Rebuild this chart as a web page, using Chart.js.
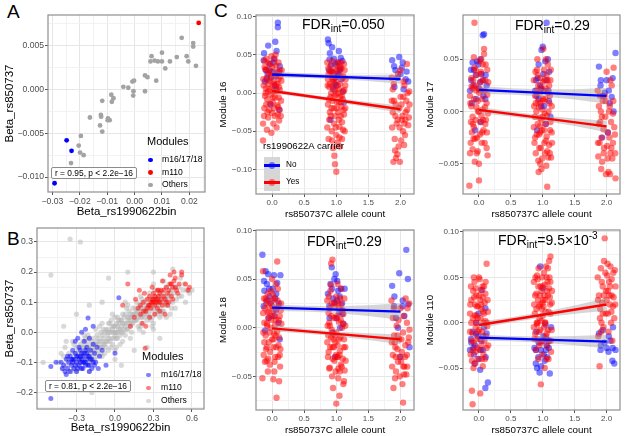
<!DOCTYPE html>
<html>
<head>
<meta charset="utf-8">
<script src="https://cdn.jsdelivr.net/npm/chart.js@4/dist/chart.umd.min.js"></script>
<style>
  body { margin: 0; background: #fff; }
  #fig { position: relative; width: 625px; height: 436px; overflow: hidden; font-family: "Liberation Sans", Arial, sans-serif; }
  #fig canvas { position: absolute; }
  .t { position: absolute; line-height: 1; white-space: nowrap; color: #000; }
  .dot { position: absolute; border-radius: 50%; }
  .note { position: absolute; border: 1px solid #8c8c8c; border-radius: 2px; background: #fff; font-size: 8.4px; line-height: 10px; padding: 0 3px; white-space: nowrap; }
  .fdr { position: absolute; font-size: 14px; line-height: 1; white-space: nowrap; }
  .fdr sub { font-size: 10px; vertical-align: -3px; }
  .fdr sup { font-size: 10px; vertical-align: 6px; }
</style>
</head>
<body>
<div id="fig">
  <div class="t" style="left:7px;top:2px;font-size:19px">A</div>
  <div class="t" style="left:7px;top:229px;font-size:19px">B</div>
  <div class="t" style="left:214px;top:1px;font-size:19px">C</div>
</div>
<script>
// ---------- panel A: module betas ----------
const aOthers = [
  [0.0172,0.0059],[0.0214,0.0053],[0.0214,0.0049],[0.0062,0.0038],[0.0058,0.0032],[0.0073,0.0033],
  [0.0085,0.0032],[0.0100,0.0042],[0.0100,0.0032],[0.0129,0.0032],[0.0154,0.0037],[0.0190,0.0038],
  [0.0196,0.0032],[0.0224,0.0027],[0.0112,0.0024],[0.0038,0.0016],[0.0047,0.0014],[0.0079,0.0010],
  [-0.0008,0.0009],[-0.0002,0.0010],[-0.0041,0.0003],[-0.0023,0.0002],[-0.0004,-0.0002],[-0.0005,-0.0007],
  [0.0038,-0.0002],[-0.0085,-0.0006],[-0.0077,-0.0010],[-0.0083,-0.0014],[-0.0118,-0.0013],[-0.0163,-0.0032],
  [-0.0123,-0.0029],[-0.0122,-0.0031],[-0.0097,-0.0033],[-0.0091,-0.0035],[-0.0098,-0.0035],[-0.0126,-0.0041],
  [-0.0118,-0.0048],[-0.0196,-0.0053],[-0.0204,-0.0064],[-0.0199,-0.0072],[-0.0186,-0.0075],[-0.0232,-0.0084]
];
const aM161718 = [[-0.0248,-0.0058],[-0.0230,-0.0070],[-0.0292,-0.0107]];
const aM110 = [[0.0234,0.0076]];

const aXTicks = [-0.03,-0.02,-0.01,0,0.01,0.02];
const aXLabels = ['\u22120.03','\u22120.02','\u22120.01','0.00','0.01','0.02'];
const aXMinor = [-0.025,-0.015,-0.005,0.005,0.015,0.025];
const aYTicks = [-0.01,-0.005,0,0.005];
const aYLabels = ['\u22120.010','\u22120.005','0.000','0.005'];
const aYMinor = [-0.0075,-0.0025,0.0025,0.0075];

// ---------- panel B: gene betas ----------
const bOthers = [
  [-0.44,-0.10],[-0.41,-0.12],[-0.40,-0.08],[-0.38,-0.11],[-0.37,-0.09],[-0.36,-0.13],[-0.42,-0.07],[-0.39,-0.05],
  [-0.34,-0.10],[-0.33,-0.07],[-0.32,-0.12],[-0.31,-0.09],[-0.30,-0.05],[-0.29,-0.11],[-0.28,-0.08],[-0.27,-0.04],
  [-0.26,-0.10],[-0.33,-0.03],[-0.30,-0.13],[-0.28,-0.06],[-0.26,-0.07],
  [-0.25,-0.09],[-0.24,-0.05],[-0.23,-0.07],[-0.22,-0.03],[-0.21,-0.10],[-0.20,-0.06],[-0.19,-0.04],[-0.18,-0.08],
  [-0.17,-0.02],[-0.16,-0.06],[-0.24,-0.01],[-0.22,-0.08],[-0.20,-0.02],[-0.18,-0.05],[-0.16,-0.09],[-0.21,-0.05],
  [-0.19,-0.07],[-0.23,-0.04],
  [-0.15,-0.04],[-0.14,-0.01],[-0.13,-0.06],[-0.12,-0.03],[-0.11,0.00],[-0.10,-0.05],[-0.09,-0.02],[-0.08,-0.07],
  [-0.07,0.01],[-0.06,-0.03],[-0.14,-0.08],[-0.12,0.02],[-0.10,-0.01],[-0.08,-0.04],[-0.06,0.00],[-0.13,-0.02],
  [-0.11,-0.05],[-0.09,0.01],[-0.07,-0.05],[-0.05,-0.02],[-0.15,0.01],[-0.10,0.03],
  [-0.05,0.01],[-0.04,-0.03],[-0.03,0.00],[-0.02,-0.04],[-0.01,0.02],[0.00,-0.01],[0.01,0.03],[0.02,-0.02],
  [0.03,0.01],[0.04,0.04],[-0.04,0.03],[-0.02,0.01],[0.00,0.02],[0.02,0.00],[0.04,-0.01],[-0.03,-0.05],
  [-0.01,-0.02],[0.01,0.00],[0.03,0.03],[0.05,0.02],[0.00,0.05],[-0.03,0.04],[0.02,0.05],[0.04,-0.04],
  [-0.05,-0.06],[0.01,-0.05],
  [0.05,0.04],[0.06,0.00],[0.07,0.03],[0.08,0.06],[0.09,0.01],[0.10,0.04],[0.11,0.07],[0.12,0.02],
  [0.13,0.05],[0.14,0.08],[0.06,0.06],[0.08,-0.01],[0.10,0.01],[0.12,0.06],[0.14,0.03],[0.07,0.05],
  [0.09,0.08],[0.11,0.03],[0.13,0.00],[0.15,0.06],[0.06,-0.03],[0.10,0.09],
  [0.16,0.04],[0.17,0.07],[0.18,0.02],[0.19,0.09],[0.20,0.05],[0.21,0.08],[0.22,0.03],[0.23,0.10],
  [0.24,0.06],[0.25,0.04],[0.17,0.10],[0.19,0.01],[0.21,0.11],[0.23,0.07],[0.16,0.08],[0.18,0.05],
  [0.20,0.12],[0.22,0.00],[0.24,0.09],
  [0.26,0.08],[0.27,0.05],[0.28,0.11],[0.29,0.07],[0.30,0.03],[0.31,0.10],[0.32,0.06],[0.33,0.12],
  [0.34,0.09],[0.35,0.05],[0.27,0.13],[0.29,0.02],[0.31,0.14],[0.33,0.07],[0.26,0.11],[0.28,0.04],
  [0.30,0.16],[0.34,0.11],
  [0.36,0.10],[0.37,0.13],[0.38,0.07],[0.39,0.11],[0.40,0.15],[0.41,0.09],[0.42,0.12],[0.43,0.06],
  [0.44,0.14],[0.45,0.10],[0.38,0.17],[0.40,0.05],[0.42,0.16],[0.36,0.06],
  [0.46,0.13],[0.48,0.11],[0.50,0.15],[0.52,0.12],[0.54,0.16],[0.56,0.14],[0.58,0.13],[0.60,0.14],
  [0.47,0.08],[0.51,0.18],[0.55,0.10],
  [-0.30,-0.07],[-0.28,-0.09],[-0.26,-0.05],[-0.24,-0.08],[-0.22,-0.06],[-0.20,-0.09],[-0.18,-0.03],[-0.16,-0.04],
  [-0.14,-0.03],[-0.12,-0.05],[-0.10,-0.03],[-0.08,0.00],[-0.06,-0.01],[-0.04,0.00],[-0.02,0.02],[0.00,0.00],
  [0.02,0.02],[0.04,0.01],[0.06,0.03],[0.08,0.02],[0.10,0.05],[0.12,0.04],[0.14,0.06],[0.16,0.06],
  [0.18,0.07],[0.20,0.08],[0.22,0.06],[0.24,0.08],[0.26,0.06],[0.28,0.09],[0.30,0.08],[0.32,0.09],
  [0.34,0.07],[0.36,0.12],[0.38,0.10],[0.40,0.12],
  [-0.27,-0.12],[-0.23,-0.02],[-0.19,-0.10],[-0.15,-0.07],[-0.11,-0.07],[-0.07,-0.03],[-0.03,-0.02],[0.01,-0.02],
  [0.05,0.00],[0.09,0.03],[0.13,0.03],[0.17,0.04],[0.21,0.05],[0.25,0.07],[0.29,0.05],[0.33,0.10],
  [0.37,0.07],[0.41,0.11],
  [-0.25,-0.03],[-0.21,-0.01],[-0.17,-0.06],[-0.13,-0.04],[-0.09,-0.04],[-0.05,0.03],[-0.01,0.00],[0.03,0.04],
  [0.07,0.01],[0.11,0.05],[0.15,0.04],[0.19,0.06],[0.23,0.05],[0.27,0.09],[0.31,0.12],[0.35,0.08],
  [0.39,0.09],[0.43,0.13],
  [-0.32,-0.04],[-0.36,-0.07],[-0.34,-0.13],[-0.38,-0.03],[0.47,0.15],[0.50,0.12],[0.53,0.14],[0.44,0.08],
  [0.08,0.10],[-0.02,0.06],[0.20,0.02],[0.30,0.01],[-0.10,-0.08],[-0.20,-0.13],[0.12,-0.02],[0.00,-0.06],
  [-0.35,0.31],[-0.27,0.30],[-0.50,0.19],[0.30,0.20],[-0.56,-0.10],[-0.20,0.09],[-0.05,0.18],[0.10,0.20],
  [0.15,-0.06],[0.05,-0.11],[-0.18,-0.20],[0.35,-0.02],[-0.40,0.02],[0.45,0.21],[0.25,-0.05],[-0.10,0.10],
  [-0.30,0.06],[0.00,-0.09]
];
const bM161718 = [
  [-0.40,-0.11],[-0.38,-0.09],[-0.37,-0.12],[-0.36,-0.10],[-0.35,-0.08],[-0.34,-0.11],[-0.33,-0.09],[-0.32,-0.12],
  [-0.31,-0.07],[-0.30,-0.10],[-0.29,-0.08],[-0.28,-0.11],[-0.27,-0.06],[-0.26,-0.09],[-0.25,-0.12],[-0.24,-0.07],
  [-0.23,-0.10],[-0.22,-0.05],[-0.21,-0.08],[-0.20,-0.11],[-0.19,-0.06],[-0.18,-0.09],[-0.17,-0.04],[-0.16,-0.07],
  [-0.15,-0.10],[-0.14,-0.05],[-0.33,-0.06],[-0.30,-0.13],[-0.28,-0.05],[-0.26,-0.12],[-0.24,-0.03],[-0.22,-0.09],
  [-0.20,-0.02],[-0.18,-0.12],[-0.35,-0.13],[-0.42,-0.10],[-0.39,-0.13],[-0.31,-0.03],[-0.27,-0.10],[-0.25,-0.08],
  [-0.23,-0.06],[-0.21,-0.11],[-0.29,-0.02],[-0.26,0.00],[-0.23,0.01],[-0.20,-0.13],[-0.16,-0.11],[-0.12,-0.08],
  [-0.10,-0.06],[-0.32,-0.09],[-0.28,-0.09],[-0.24,-0.10],
  [-0.37,-0.08],[-0.33,-0.10],[-0.30,-0.08],[-0.27,-0.08],[-0.25,-0.10],[-0.22,-0.07],[-0.19,-0.09],[-0.29,-0.12],
  [-0.34,-0.09],[-0.23,-0.11],[-0.31,-0.11],[-0.26,-0.07],[-0.20,-0.08],[-0.17,-0.10],[-0.38,-0.14],[-0.41,-0.12],
  [0.03,0.115],[-0.21,0.047],[-0.50,-0.22],[-0.50,-0.114],[0.00,-0.07],[-0.07,-0.11],[-0.46,-0.10],[-0.17,0.02],
  [-0.13,-0.12]
];
const bM110 = [
  [0.15,0.05],[0.18,0.08],[0.20,0.06],[0.22,0.10],[0.24,0.07],[0.25,0.11],[0.26,0.09],[0.27,0.12],
  [0.28,0.08],[0.29,0.10],[0.30,0.13],[0.31,0.09],[0.32,0.11],[0.33,0.08],[0.34,0.12],[0.35,0.10],
  [0.36,0.14],[0.37,0.09],[0.38,0.12],[0.39,0.11],[0.40,0.15],[0.41,0.13],[0.42,0.10],[0.43,0.16],
  [0.44,0.12],[0.45,0.15],[0.46,0.17],[0.48,0.14],[0.50,0.16],[0.52,0.19],[0.55,0.16],[0.57,0.14],
  [0.21,0.03],[0.23,0.13],[0.27,0.05],[0.29,0.15],[0.31,0.06],[0.33,0.14],[0.35,0.07],[0.37,0.17],
  [0.39,0.06],[0.41,0.09],[0.43,0.19],[0.45,0.11],[0.47,0.18],[0.49,0.13],[0.12,0.02],[0.16,0.11],
  [0.19,0.14],[0.24,0.02],[0.30,0.11],[0.32,0.10],[0.34,0.10],[0.28,0.10],
  [0.30,0.10],[0.33,0.11],[0.36,0.11],[0.38,0.14],[0.42,0.14],[0.27,0.09],[0.25,0.08],[0.31,0.12],
  [0.35,0.13],[0.40,0.10],[0.44,0.16],[0.47,0.15],[0.22,0.07],[0.20,0.09],[0.29,0.11],[0.34,0.14],
  [0.52,0.20],[0.46,0.20],[0.235,-0.053],[0.06,0.09],[0.10,0.16],[0.58,0.15]
];

const bXTicks = [-0.3,0,0.3,0.6];
const bXLabels = ['\u22120.3','0.0','0.3','0.6'];
const bXMinor = [-0.45,-0.15,0.15,0.45];
const bYTicks = [-0.2,-0.1,0,0.1,0.2,0.3];
const bYLabels = ['\u22120.2','\u22120.1','0.0','0.1','0.2','0.3'];
const bYMinor = [-0.25,-0.15,-0.05,0.05,0.15,0.25];

// ---------- panel C: module eigengenes by allele count, jittered ----------
const c16No = [
  [-0.13,0.043],[-0.10,0.030],[-0.07,0.025],[-0.04,0.038],[-0.02,0.020],[0.01,0.028],[0.03,0.045],[0.05,0.067],
  [0.07,0.055],[0.09,0.092],[0.09,0.086],[0.11,-0.022],[-0.11,0.015],[-0.06,0.062],[0.04,0.010],[0.12,0.035],
  [-0.02,-0.015],[0.06,0.022],[-0.125,0.052],[-0.085,0.018],[-0.045,0.030],[0.025,0.040],[0.065,0.005],[0.105,0.028],
  [0.87,0.070],[0.88,0.065],[0.90,0.052],[0.92,0.037],[0.94,0.028],[0.96,0.045],[0.98,0.020],[1.00,0.010],
  [1.02,0.040],[1.04,0.055],[1.06,0.032],[1.08,0.018],[1.10,0.002],[1.12,-0.012],[0.91,-0.035],[0.95,0.005],
  [1.03,0.025],[0.89,0.030],[1.07,0.046],[0.99,0.038],[0.895,0.044],[0.935,0.060],[0.975,0.012],[1.015,0.022],
  [1.055,0.030],[1.095,0.042],
  [1.87,0.043],[1.90,0.035],[1.92,0.030],[1.95,0.020],[1.98,0.047],[2.00,0.025],[2.02,0.033],[2.05,0.005],
  [2.08,0.018],[2.12,0.015],[1.905,0.008],[2.035,0.040],[2.095,0.028]
];
const c16Yes = [
  [-0.12,0.042],[-0.10,0.031],[-0.08,0.020],[-0.06,0.012],[-0.04,0.005],[-0.02,-0.002],[0.00,0.008],[0.02,0.015],
  [0.04,0.024],[0.06,0.036],[0.08,0.028],[0.10,0.018],[0.12,0.004],[0.14,-0.010],[-0.13,0.010],[-0.11,-0.004],
  [-0.09,-0.015],[-0.07,-0.025],[-0.05,0.026],[-0.03,0.038],[-0.01,0.048],[0.01,-0.012],[0.03,-0.020],[0.05,-0.006],
  [0.07,0.002],[0.09,-0.028],[0.11,-0.036],[0.13,0.022],[-0.14,-0.040],[-0.12,-0.020],[-0.10,0.000],[-0.08,-0.048],
  [-0.06,-0.032],[-0.04,0.016],[-0.02,0.028],[0.00,-0.026],[0.02,-0.040],[0.04,0.044],[0.06,0.010],[0.08,-0.016],
  [0.10,0.040],[0.12,-0.022],[-0.14,-0.062],[0.07,-0.045],[-0.09,0.045],[0.15,0.030],[-0.01,-0.052],[0.11,0.008],
  [-0.135,0.018],[-0.115,0.034],[-0.095,0.006],[-0.075,-0.008],[-0.055,0.040],[-0.035,-0.014],[-0.015,0.022],[0.005,0.034],
  [0.025,0.002],[0.045,-0.030],[0.065,0.024],[0.085,0.012],[0.105,-0.006],[0.125,0.030],[0.145,0.016],[-0.125,-0.030],
  [-0.085,0.030],[-0.045,-0.022],[0.015,-0.006],[0.055,0.050],[0.095,-0.018],[0.135,-0.030],[-0.065,0.002],[0.035,0.012],
  [0.86,0.040],[0.88,0.025],[0.90,0.012],[0.92,0.000],[0.94,-0.010],[0.96,-0.020],[0.98,-0.030],[1.00,0.015],
  [1.02,0.030],[1.04,0.005],[1.06,-0.005],[1.08,-0.018],[1.10,0.020],[1.12,-0.028],[1.14,0.010],[0.87,-0.015],
  [0.89,-0.035],[0.91,0.035],[0.93,0.020],[0.95,0.008],[0.97,-0.004],[0.99,-0.045],[1.01,-0.012],[1.03,-0.025],
  [1.05,0.025],[1.07,0.040],[1.09,-0.038],[1.11,0.002],[1.13,-0.050],[0.86,-0.045],[0.88,-0.060],[0.90,-0.025],
  [0.92,0.028],[0.94,0.042],[0.96,0.018],[0.98,0.004],[1.00,-0.055],[1.02,-0.065],[1.04,-0.035],[1.06,0.012],
  [1.08,0.032],[1.10,-0.008],[1.12,0.038],[1.14,-0.020],[0.97,-0.082],[0.98,-0.093],[1.00,-0.103],[0.95,-0.072],
  [1.05,-0.058],[1.09,-0.060],[0.91,-0.005],[1.03,0.000],[1.07,-0.030],[0.89,0.008],[1.11,0.022],[0.93,-0.050],
  [1.13,0.030],[1.01,0.036],[0.87,0.018],[1.05,-0.044],
  [0.865,0.010],[0.885,-0.008],[0.905,0.028],[0.925,-0.020],[0.945,0.015],[0.965,-0.040],[0.985,0.030],[1.005,-0.020],
  [1.025,0.010],[1.045,-0.012],[1.065,0.034],[1.085,-0.004],[1.105,-0.048],[1.125,0.004],[1.145,0.018],[0.875,0.032],
  [0.915,-0.030],[0.955,0.026],[0.995,-0.002],[1.035,0.040],[1.075,-0.012],[1.115,-0.022],[0.935,-0.062],[1.055,-0.070],
  [1.86,0.020],[1.88,0.005],[1.90,-0.010],[1.92,-0.030],[1.94,-0.040],[1.96,0.025],[1.98,-0.020],[2.00,-0.005],
  [2.02,-0.035],[2.04,-0.050],[2.06,0.010],[2.08,-0.025],[2.10,0.038],[2.12,-0.042],[2.14,-0.015],[1.87,-0.045],
  [1.89,-0.090],[1.91,-0.060],[1.93,-0.085],[1.95,-0.080],[1.97,-0.070],[1.99,-0.090],[2.01,-0.062],[2.03,-0.030],
  [2.05,0.015],[2.07,-0.055],[2.09,-0.010],[2.11,0.000],[2.13,-0.032],[1.88,-0.025],[2.00,0.030],[2.06,-0.040],
  [1.865,-0.010],[1.895,0.012],[1.925,-0.015],[1.955,-0.035],[1.985,-0.045],[2.015,-0.015],[2.045,-0.005],[2.075,-0.035],
  [2.105,-0.022],[2.135,0.002],[1.915,-0.075],[2.055,-0.068]
];
const c17No = [
  [-0.14,0.020],[-0.12,0.030],[-0.10,0.047],[-0.08,0.040],[-0.05,0.035],[-0.03,0.048],[-0.01,0.045],[0.02,0.028],
  [0.04,0.036],[0.06,0.073],[0.08,0.074],[0.10,0.012],[0.12,0.025],[-0.06,-0.018],[0.03,-0.010],[-0.11,0.008],
  [0.07,0.015],[0.00,0.022],[-0.125,0.040],[-0.085,0.025],[-0.045,0.012],[0.025,0.050],[0.065,0.030],[0.105,0.035],
  [0.88,0.020],[0.90,0.015],[0.92,0.032],[0.94,0.012],[0.96,0.025],[0.98,0.059],[1.00,0.062],[1.02,0.005],
  [1.04,0.048],[1.06,0.085],[1.08,0.050],[1.10,0.038],[1.12,-0.005],[0.91,-0.018],[1.05,-0.012],[0.97,0.022],
  [1.09,0.020],[1.01,0.036],[0.895,0.030],[0.935,0.045],[0.975,0.005],[1.015,0.020],[1.055,0.030],[1.095,0.010],
  [1.88,0.043],[1.91,0.030],[1.94,0.015],[1.97,0.018],[2.00,0.030],[2.02,-0.020],[2.05,0.008],[2.08,0.014],
  [2.11,0.000],[2.14,0.056],[1.93,-0.025],[1.905,0.025],[2.035,0.020],[2.095,0.032]
];
const c17Yes = [
  [-0.14,0.015],[-0.12,0.005],[-0.10,-0.005],[-0.08,-0.015],[-0.06,0.025],[-0.04,0.035],[-0.02,0.010],[0.00,0.000],
  [0.02,-0.010],[0.04,0.020],[0.06,0.045],[0.08,0.055],[0.10,0.030],[0.12,0.008],[0.14,-0.002],[-0.13,-0.030],
  [-0.11,-0.020],[-0.09,0.030],[-0.07,0.042],[-0.05,-0.008],[-0.03,-0.025],[-0.01,0.022],[0.01,0.048],[0.03,0.038],
  [0.05,0.012],[0.07,-0.018],[0.09,-0.030],[0.11,-0.008],[0.13,0.016],[-0.14,-0.040],[-0.12,0.032],[-0.10,-0.036],
  [-0.08,0.052],[-0.06,-0.026],[-0.04,0.004],[-0.02,-0.038],[0.00,-0.050],[0.02,0.028],[0.04,-0.004],[0.06,0.002],
  [0.08,0.060],[0.10,-0.012],[0.12,-0.035],[-0.15,-0.071],[0.00,-0.066],[-0.07,0.085],[-0.10,0.022],[0.05,-0.020],
  [0.13,0.040],
  [-0.135,0.008],[-0.115,0.024],[-0.095,-0.012],[-0.075,0.012],[-0.055,0.040],[-0.035,-0.040],[-0.015,0.000],[0.005,0.018],
  [0.025,0.036],[0.045,-0.030],[0.065,-0.008],[0.085,0.020],[0.105,0.045],[0.125,-0.020],[0.145,0.028],[-0.125,-0.010],
  [-0.085,-0.026],[-0.045,0.020],[0.015,-0.022],[0.055,0.030],[0.095,0.004],[0.135,-0.042],[-0.065,-0.048],[0.035,0.050],
  [0.86,0.030],[0.88,0.015],[0.90,0.000],[0.92,-0.012],[0.94,-0.022],[0.96,0.008],[0.98,0.022],[1.00,-0.005],
  [1.02,-0.018],[1.04,0.012],[1.06,0.035],[1.08,0.045],[1.10,0.025],[1.12,-0.010],[1.14,0.005],[0.87,-0.030],
  [0.89,-0.040],[0.91,0.040],[0.93,0.025],[0.95,-0.006],[0.97,-0.035],[0.99,-0.045],[1.01,0.010],[1.03,0.030],
  [1.05,-0.028],[1.07,-0.038],[1.09,0.000],[1.11,0.015],[1.13,-0.044],[0.86,-0.015],[0.88,-0.025],[0.90,0.020],
  [0.92,0.035],[0.94,0.004],[0.96,-0.020],[0.98,-0.008],[1.00,0.028],[1.02,0.040],[1.04,-0.012],[1.06,-0.024],
  [1.08,0.018],[1.10,-0.032],[1.12,0.030],[1.14,-0.020],[0.98,-0.055],[0.96,-0.050],[1.07,-0.072],[1.01,0.060],
  [0.93,-0.047],[1.05,0.050],[1.11,-0.040],[0.89,0.008],[1.03,-0.002],[0.95,0.018],
  [0.865,0.005],[0.885,0.038],[0.905,-0.022],[0.925,0.010],[0.945,-0.035],[0.965,0.032],[0.985,-0.018],[1.005,0.012],
  [1.025,-0.030],[1.045,0.022],[1.065,-0.004],[1.085,-0.044],[1.105,0.008],[1.125,0.040],[1.145,-0.030],[0.875,-0.005],
  [0.915,0.050],[0.955,-0.014],[0.995,0.002],[1.035,-0.040],[1.075,0.030],[1.115,-0.018],[0.935,-0.058],[1.055,-0.052],
  [1.86,0.020],[1.88,0.005],[1.90,-0.010],[1.92,-0.025],[1.94,0.010],[1.96,-0.035],[1.98,-0.005],[2.00,0.038],
  [2.02,-0.020],[2.04,0.000],[2.06,-0.040],[2.08,0.025],[2.10,-0.030],[2.12,-0.015],[2.14,-0.064],[1.87,-0.043],
  [1.89,-0.030],[1.91,0.000],[1.93,-0.048],[1.95,-0.017],[1.97,0.015],[1.99,-0.060],[2.01,-0.033],[2.03,-0.058],
  [2.05,0.005],[2.07,-0.010],[2.09,-0.045],[2.11,0.042],[2.13,-0.022],[1.88,-0.012],[2.06,0.030],[2.10,-0.002],
  [1.865,-0.030],[1.895,0.015],[1.925,-0.005],[1.955,-0.040],[1.985,0.010],[2.015,-0.045],[2.045,-0.025],[2.075,-0.035],
  [2.105,0.010],[2.135,-0.040],[1.915,-0.055],[2.055,-0.060]
];
const c18No = [
  [-0.15,0.075],[-0.12,0.038],[-0.10,0.058],[-0.08,0.045],[-0.06,0.055],[-0.04,0.032],[-0.02,0.025],[0.01,0.040],
  [0.03,0.054],[0.05,0.030],[0.08,0.046],[0.10,0.005],[0.13,0.054],[-0.11,-0.003],[-0.05,0.010],[0.06,0.018],
  [0.12,-0.012],[-0.13,0.022],[-0.125,0.048],[-0.085,0.028],[-0.045,0.040],[0.025,0.012],[0.065,0.035],[0.105,0.025],
  [0.87,0.035],[0.89,0.022],[0.91,0.045],[0.93,0.062],[0.95,0.030],[0.97,0.050],[0.99,0.055],[1.01,0.028],
  [1.03,0.038],[1.05,0.016],[1.07,0.040],[1.09,0.025],[1.11,0.004],[1.13,0.040],[0.94,-0.005],[1.00,0.010],
  [1.06,0.000],[0.98,-0.030],[0.895,0.010],[0.935,0.040],[0.975,0.025],[1.015,0.048],[1.055,0.032],[1.095,0.014],
  [1.87,0.043],[1.90,0.022],[1.93,0.010],[1.96,0.000],[1.98,0.056],[2.00,-0.030],[2.03,0.022],[2.06,0.012],
  [2.09,0.080],[2.12,0.024],[2.14,-0.020],[1.905,0.032],[2.035,0.028],[2.115,0.050]
];
const c18Yes = [
  [-0.14,0.015],[-0.12,0.005],[-0.10,-0.008],[-0.08,-0.020],[-0.06,0.010],[-0.04,0.022],[-0.02,0.000],[0.00,-0.012],
  [0.02,0.018],[0.04,0.030],[0.06,0.008],[0.08,-0.004],[0.10,-0.018],[0.12,0.012],[0.14,0.025],[-0.13,-0.028],
  [-0.11,-0.035],[-0.09,0.025],[-0.07,0.035],[-0.05,-0.015],[-0.03,-0.025],[-0.01,0.012],[0.01,0.028],[0.03,-0.006],
  [0.05,-0.030],[0.07,0.020],[0.09,0.040],[0.11,-0.010],[0.13,-0.022],[-0.14,0.058],[-0.12,-0.015],[-0.10,0.030],
  [-0.08,0.004],[-0.06,-0.032],[-0.04,-0.005],[-0.02,0.038],[0.00,0.050],[0.02,-0.020],[0.04,-0.035],[0.06,0.045],
  [0.08,0.068],[0.10,0.022],[0.12,-0.028],[-0.15,-0.052],[0.02,-0.053],[0.07,-0.072],[0.11,-0.055],[-0.07,0.016],
  [0.05,0.003],
  [-0.135,-0.005],[-0.115,0.020],[-0.095,-0.022],[-0.075,0.002],[-0.055,0.028],[-0.035,-0.038],[-0.015,0.008],[0.005,0.022],
  [0.025,-0.012],[0.045,0.012],[0.065,-0.020],[0.085,0.028],[0.105,0.008],[0.125,-0.040],[0.145,0.004],[-0.125,0.030],
  [-0.085,-0.034],[-0.045,0.016],[0.015,0.034],[0.055,-0.008],[0.095,-0.030],[0.135,0.018],[-0.065,-0.045],[0.035,-0.045],
  [0.86,0.028],[0.88,0.015],[0.90,0.002],[0.92,-0.010],[0.94,-0.020],[0.96,0.010],[0.98,0.022],[1.00,-0.005],
  [1.02,-0.018],[1.04,0.006],[1.06,0.030],[1.08,0.040],[1.10,0.018],[1.12,-0.012],[1.14,0.002],[0.87,-0.030],
  [0.89,-0.042],[0.91,0.038],[0.93,0.025],[0.95,-0.006],[0.97,-0.034],[0.99,-0.045],[1.01,0.012],[1.03,0.026],
  [1.05,-0.028],[1.07,-0.038],[1.09,0.000],[1.11,0.014],[1.13,-0.044],[0.86,-0.015],[0.88,-0.025],[0.90,0.020],
  [0.92,0.066],[0.94,0.070],[0.96,-0.020],[0.98,-0.008],[1.00,0.032],[1.02,0.045],[1.04,-0.012],[1.06,-0.024],
  [1.08,0.018],[1.10,-0.032],[1.12,-0.055],[1.14,-0.020],[0.95,-0.062],[1.00,-0.078],[1.03,-0.052],[1.05,-0.070],
  [0.90,-0.041],[1.11,-0.058],[0.93,-0.002],[1.07,0.008],[0.89,0.005],[1.01,-0.030],
  [0.865,0.002],[0.885,0.032],[0.905,-0.020],[0.925,0.012],[0.945,-0.032],[0.965,0.026],[0.985,-0.015],[1.005,0.010],
  [1.025,-0.030],[1.045,0.020],[1.065,-0.010],[1.085,-0.040],[1.105,0.004],[1.125,0.030],[1.145,-0.034],[0.875,-0.008],
  [0.915,0.044],[0.955,-0.012],[0.995,-0.028],[1.035,-0.042],[1.075,0.024],[1.115,-0.020],[0.935,-0.050],[1.055,-0.045],
  [1.86,0.028],[1.88,0.010],[1.90,-0.008],[1.92,-0.020],[1.94,0.002],[1.96,-0.035],[1.98,-0.012],[2.00,0.020],
  [2.02,-0.025],[2.04,-0.005],[2.06,-0.040],[2.08,0.030],[2.10,-0.028],[2.12,-0.015],[2.14,-0.002],[1.87,-0.040],
  [1.89,-0.062],[1.91,-0.015],[1.93,-0.045],[1.95,-0.022],[1.97,0.008],[1.99,-0.050],[2.01,-0.035],[2.03,-0.058],
  [2.05,0.012],[2.07,-0.030],[2.09,-0.048],[2.11,0.020],[2.13,-0.010],[2.04,-0.077],[1.88,-0.028],[2.10,0.005],
  [1.865,-0.015],[1.895,0.020],[1.925,-0.030],[1.955,-0.008],[1.985,-0.030],[2.015,-0.012],[2.045,-0.040],[2.075,-0.018],
  [2.105,-0.040],[2.135,0.025],[1.915,-0.052],[2.055,-0.048]
];
const c110No = [
  [-0.14,-0.030],[-0.12,-0.022],[-0.10,-0.010],[-0.08,-0.035],[-0.06,-0.025],[-0.04,0.000],[-0.02,-0.015],[0.00,-0.040],
  [0.02,-0.052],[0.04,-0.020],[0.06,-0.030],[0.08,-0.005],[0.10,-0.072],[0.12,-0.012],[0.14,-0.066],[0.05,0.036],
  [-0.07,-0.045],[0.10,0.016],[-0.01,0.010],[-0.125,-0.018],[-0.085,-0.028],[-0.045,-0.012],[0.025,-0.030],[0.065,-0.015],
  [0.105,-0.038],
  [0.87,-0.028],[0.89,-0.045],[0.91,-0.050],[0.93,-0.038],[0.95,-0.055],[0.97,-0.030],[0.99,-0.020],[1.01,-0.015],
  [1.03,-0.042],[1.05,-0.030],[1.07,-0.038],[1.09,-0.020],[1.11,-0.056],[1.13,-0.005],[0.96,0.062],[1.00,0.038],
  [1.04,-0.002],[0.90,-0.010],[1.06,-0.025],[0.895,-0.030],[0.935,-0.022],[0.975,-0.048],[1.015,-0.035],[1.055,-0.018],
  [1.095,-0.028],
  [1.88,-0.012],[1.91,-0.025],[1.94,-0.008],[1.97,-0.022],[2.00,-0.028],[2.03,-0.032],[2.06,-0.020],[2.09,-0.042],
  [2.12,-0.045],[2.14,-0.030],[2.10,-0.005],[1.905,-0.030],[2.035,-0.015],[2.095,-0.028]
];
const c110Yes = [
  [-0.14,0.010],[-0.12,0.000],[-0.10,-0.012],[-0.08,-0.022],[-0.06,0.020],[-0.04,0.030],[-0.02,0.005],[0.00,-0.008],
  [0.02,-0.018],[0.04,0.015],[0.06,0.028],[0.08,0.040],[0.10,0.002],[0.12,-0.028],[0.14,0.012],[-0.13,-0.035],
  [-0.11,-0.042],[-0.09,0.035],[-0.07,0.045],[-0.05,-0.005],[-0.03,-0.028],[-0.01,0.018],[0.01,0.048],[0.03,0.036],
  [0.05,-0.010],[0.07,-0.035],[0.09,0.022],[0.11,-0.015],[0.13,-0.004],[-0.14,-0.010],[-0.12,0.025],[-0.10,-0.030],
  [-0.08,0.050],[-0.06,-0.045],[-0.04,0.008],[-0.02,-0.040],[0.00,0.050],[0.02,0.025],[0.04,-0.025],[0.06,-0.048],
  [0.08,0.010],[0.10,0.032],[0.12,0.065],[-0.11,-0.075],[-0.10,-0.090],[0.02,-0.078],[-0.05,0.038],[0.07,0.000],
  [-0.03,-0.018],
  [-0.135,0.020],[-0.115,-0.020],[-0.095,0.005],[-0.075,0.028],[-0.055,-0.032],[-0.035,0.018],[-0.015,-0.010],[0.005,0.030],
  [0.025,0.005],[0.045,-0.040],[0.065,0.012],[0.085,-0.020],[0.105,0.045],[0.125,0.000],[0.145,-0.025],[-0.125,0.040],
  [-0.085,-0.050],[-0.045,0.000],[0.015,-0.030],[0.055,0.040],[0.095,-0.040],[0.135,0.025],[-0.065,0.008],[0.035,0.020],
  [0.86,0.045],[0.88,0.030],[0.90,0.015],[0.92,0.000],[0.94,-0.010],[0.96,0.020],[0.98,0.035],[1.00,0.008],
  [1.02,-0.005],[1.04,0.025],[1.06,0.050],[1.08,0.060],[1.10,0.038],[1.12,0.010],[1.14,0.022],[0.87,-0.018],
  [0.89,-0.030],[0.91,0.052],[0.93,0.040],[0.95,0.005],[0.97,-0.022],[0.99,-0.035],[1.01,0.018],[1.03,0.042],
  [1.05,-0.015],[1.07,-0.026],[1.09,0.012],[1.11,0.028],[1.13,-0.032],[0.86,-0.005],[0.88,-0.012],[0.90,0.032],
  [0.92,0.048],[0.94,0.018],[0.96,-0.008],[0.98,0.002],[1.00,0.040],[1.02,0.055],[1.04,0.000],[1.06,-0.012],
  [1.08,0.030],[1.10,-0.020],[1.12,0.045],[1.14,-0.008],[1.10,0.068],[1.12,0.073],[0.97,-0.068],[1.03,-0.050],
  [0.93,-0.040],[1.05,0.062],[0.99,0.050],[1.09,-0.040],[0.91,-0.002],[1.01,0.025],
  [0.865,0.020],[0.885,0.050],[0.905,0.000],[0.925,0.025],[0.945,-0.025],[0.965,0.040],[0.985,0.015],[1.005,-0.020],
  [1.025,0.030],[1.045,0.012],[1.065,0.035],[1.085,-0.008],[1.105,0.050],[1.125,-0.020],[1.145,0.035],[0.875,0.010],
  [0.915,-0.018],[0.955,0.030],[0.995,0.022],[1.035,0.000],[1.075,0.045],[1.115,0.020],[0.935,0.060],[1.055,-0.040],
  [1.86,0.050],[1.88,0.030],[1.90,0.015],[1.92,0.000],[1.94,0.040],[1.96,0.068],[1.98,0.055],[2.00,0.025],
  [2.02,0.010],[2.04,0.045],[2.06,0.062],[2.08,0.030],[2.10,0.018],[2.12,0.005],[2.14,0.040],[1.87,-0.015],
  [1.89,-0.048],[1.91,0.060],[1.93,0.022],[1.95,-0.005],[1.97,0.093],[1.99,0.035],[2.01,0.052],[2.03,-0.010],
  [2.05,0.020],[2.07,0.000],[2.09,-0.020],[2.11,0.028],[2.13,0.058],[1.94,0.010],[2.02,0.035],[2.08,0.048],
  [1.865,0.025],[1.895,0.005],[1.925,0.045],[1.955,0.030],[1.985,0.010],[2.015,0.065],[2.045,0.030],[2.075,0.012],
  [2.105,0.055],[2.135,0.020],[1.915,-0.010],[2.055,0.040]
];

// linear fits (ends at 0 and 2) and confidence bands
const fitX = [0, 2];
const bandX = [0, 0.5, 1, 1.5, 2];
const c16NoFit = [0.0243, 0.0182], c16YesFit = [0.0026, -0.0212];
const c16NoHi = [0.0283,0.0258,0.0243,0.0237,0.0242], c16NoLo = [0.0203,0.0198,0.0183,0.0157,0.0122];
const c16YesHi = [0.0056,-0.0010,-0.0068,-0.0118,-0.0162], c16YesLo = [-0.0004,-0.0058,-0.0118,-0.0188,-0.0262];
const c17NoFit = [0.0207, 0.0150], c17YesFit = [0.0016, -0.0143];
const c17NoHi = [0.0247,0.0223,0.0214,0.0214,0.0225], c17NoLo = [0.0167,0.0163,0.0144,0.0114,0.0075];
const c17YesHi = [0.0046,0.0001,-0.0039,-0.0068,-0.0088], c17YesLo = [-0.0014,-0.0049,-0.0089,-0.0138,-0.0198];
const c18NoFit = [0.0206, 0.0165], c18YesFit = [-0.0007, -0.0120];
const c18NoHi = [0.0241,0.0226,0.0221,0.0230,0.0250], c18NoLo = [0.0171,0.0166,0.0151,0.0120,0.0080];
const c18YesHi = [0.0023,-0.0010,-0.0039,-0.0057,-0.0070], c18YesLo = [-0.0037,-0.0060,-0.0089,-0.0127,-0.0170];
const c110NoFit = [-0.0165, -0.0209], c110YesFit = [-0.0026, 0.0201];
const c110NoHi = [-0.0130,-0.0146,-0.0152,-0.0148,-0.0134], c110NoLo = [-0.0200,-0.0206,-0.0222,-0.0248,-0.0284];
const c110YesHi = [0.0009,0.0061,0.0118,0.0189,0.0271], c110YesLo = [-0.0061,0.0001,0.0058,0.0099,0.0131];

const cXTicks = [0,0.5,1,1.5,2];
const cXLabels = ['0.0','0.5','1.0','1.5','2.0'];
const cXMinor = [0.25,0.75,1.25,1.75];
const c16YTicks = [-0.1,-0.05,0,0.05,0.1];
const c16YLabels = ['\u22120.10','\u22120.05','0.00','0.05','0.10'];
const c16YMinor = [-0.125,-0.075,-0.025,0.025,0.075];
const c17YTicks = [-0.05,0,0.05];
const c17YLabels = ['\u22120.05','0.00','0.05'];
const c17YMinor = [-0.075,-0.025,0.025,0.075];
const c18YTicks = [-0.05,0,0.05,0.1];
const c18YLabels = ['\u22120.05','0.00','0.05','0.10'];
const c18YMinor = [-0.075,-0.025,0.025,0.075];

// ---------- drawing ----------
const FONT = '"Liberation Sans", Arial, sans-serif';
const fig = document.getElementById('fig');

const boxPlugin = {
  id: 'panelBox',
  afterDraw(chart) {
    const a = chart.chartArea, c = chart.ctx;
    c.save();
    c.strokeStyle = '#8f8f8f';
    c.lineWidth = 1.2;
    c.strokeRect(a.left, a.top, a.right - a.left, a.bottom - a.top);
    c.restore();
  }
};

function axis(o) {
  const all = o.major.concat(o.minor).sort((a, b) => a - b);
  const isMajor = v => o.major.indexOf(v) >= 0;
  return {
    type: 'linear', position: o.pos, min: o.min, max: o.max,
    afterBuildTicks: s => { s.ticks = all.map(v => ({ value: v })); },
    afterFit: s => { if (o.pos === 'left') s.width = o.size; else s.height = o.size; },
    ticks: {
      autoSkip: false, maxRotation: 0, minRotation: 0, padding: 1,
      color: '#4d4d4d', font: { family: FONT, size: o.tickSize },
      callback: v => isMajor(v) ? o.labels[o.major.indexOf(v)] : ''
    },
    grid: {
      color: c => (c.tick && isMajor(c.tick.value)) ? '#e6e6e6' : '#f2f2f2',
      lineWidth: 1, tickLength: 3,
      tickColor: c => (c.tick && isMajor(c.tick.value)) ? '#555' : 'rgba(0,0,0,0)'
    },
    border: { display: false },
    title: { display: true, text: o.title, color: '#000', font: { family: FONT, size: o.titleSize },
      padding: { top: o.titlePad, bottom: 0 } }
  };
}

function panel(box, yW, xH, xo, yo, datasets) {
  const padT = 8, padR = 10;
  const left = box[0] - yW, top = box[1] - padT;
  const cv = document.createElement('canvas');
  cv.width = box[2] + padR - left;
  cv.height = box[3] + xH - top;
  cv.style.left = left + 'px';
  cv.style.top = top + 'px';
  fig.appendChild(cv);
  xo.pos = 'bottom'; xo.size = xH;
  yo.pos = 'left'; yo.size = yW;
  return new Chart(cv, {
    type: 'scatter',
    data: { datasets },
    options: {
      responsive: false, animation: false, events: [],
      layout: { padding: { top: padT, right: padR, left: 0, bottom: 0 } },
      plugins: { legend: { display: false }, tooltip: { enabled: false } },
      scales: { x: axis(xo), y: axis(yo) }
    },
    plugins: [boxPlugin]
  });
}

const xy = arr => arr.map(p => ({ x: p[0], y: p[1] }));
const pts = (arr, color, r, order) => ({ data: xy(arr), backgroundColor: color, borderWidth: 0,
  pointRadius: r, pointHoverRadius: r, order });
const fitLine = (ys, color) => ({ type: 'line', data: fitX.map((x, i) => ({ x, y: ys[i] })),
  borderColor: color, borderWidth: 2.4, pointRadius: 0, fill: false, order: 0 });
const band = (hi, lo) => [
  { type: 'line', data: bandX.map((x, i) => ({ x, y: hi[i] })), borderWidth: 0, borderColor: 'rgba(0,0,0,0)',
    pointRadius: 0, fill: '+1', backgroundColor: 'rgba(153,153,153,0.4)', order: 1 },
  { type: 'line', data: bandX.map((x, i) => ({ x, y: lo[i] })), borderWidth: 0, borderColor: 'rgba(0,0,0,0)',
    pointRadius: 0, fill: false, order: 1 }
];

// A
panel([48, 15, 205, 192], 48, 27,
  { min: -0.0316, max: 0.0257, major: aXTicks, labels: aXLabels, minor: aXMinor, title: 'Beta_rs1990622bin', tickSize: 8.6, titleSize: 11.5, titlePad: 0 },
  { min: -0.0117, max: 0.0085, major: aYTicks, labels: aYLabels, minor: aYMinor, title: 'Beta_rs850737', tickSize: 8.6, titleSize: 11.5, titlePad: 3 },
  [pts(aOthers, '#a3a3a3', 2.4, 3), pts(aM161718, '#0000ff', 2.4, 2), pts(aM110, '#ff0000', 2.4, 1)]);

// B
panel([37, 228, 204, 409], 37, 26,
  { min: -0.608, max: 0.694, major: bXTicks, labels: bXLabels, minor: bXMinor, title: 'Beta_rs1990622bin', tickSize: 8.6, titleSize: 11.5, titlePad: 0 },
  { min: -0.255, max: 0.3465, major: bYTicks, labels: bYLabels, minor: bYMinor, title: 'Beta_rs850737', tickSize: 8.6, titleSize: 11.5, titlePad: 3 },
  [pts(bOthers, 'rgba(180,180,180,0.5)', 2.6, 3), pts(bM161718, 'rgba(0,0,255,0.5)', 2.5, 2), pts(bM110, 'rgba(255,0,0,0.5)', 2.5, 1)]);

const cPanel = (box, yr, yT, yL, yM, title, noPts, yesPts, noFit, yesFit, noHi, noLo, yesHi, yesLo) =>
  panel(box, 43, 26,
    { min: -0.25, max: 2.21, major: cXTicks, labels: cXLabels, minor: cXMinor, title: 'rs850737C allele count', tickSize: 8, titleSize: 9.8, titlePad: 0 },
    { min: yr[0], max: yr[1], major: yT, labels: yL, minor: yM, title, tickSize: 8, titleSize: 9.8, titlePad: 4 },
    [fitLine(noFit, '#0000ff'), fitLine(yesFit, '#ff0000')]
      .concat(band(noHi, noLo), band(yesHi, yesLo),
        [pts(noPts, 'rgba(0,0,255,0.5)', 3.2, 3), pts(yesPts, 'rgba(255,0,0,0.5)', 3.2, 2)]));

cPanel([256, 15, 414, 194], [-0.132, 0.102], c16YTicks, c16YLabels, c16YMinor, 'Module 16',
  c16No, c16Yes, c16NoFit, c16YesFit, c16NoHi, c16NoLo, c16YesHi, c16YesLo);
cPanel([463, 15, 620, 194], [-0.079, 0.0924], c17YTicks, c17YLabels, c17YMinor, 'Module 17',
  c17No, c17Yes, c17NoFit, c17YesFit, c17NoHi, c17NoLo, c17YesHi, c17YesLo);
cPanel([256, 230, 414, 410], [-0.0846, 0.1004], c18YTicks, c18YLabels, c18YMinor, 'Module 18',
  c18No, c18Yes, c18NoFit, c18YesFit, c18NoHi, c18NoLo, c18YesHi, c18YesLo);
cPanel([463, 230, 620, 410], [-0.0963, 0.1022], c18YTicks, c18YLabels, c18YMinor, 'Module 110',
  c110No, c110Yes, c110NoFit, c110YesFit, c110NoHi, c110NoLo, c110YesHi, c110YesLo);

// ---------- overlays: legends, notes, FDR labels ----------
function text(str, x, cy, size) {
  const d = document.createElement('div');
  d.className = 't';
  d.style.left = x + 'px';
  d.style.top = (cy - size * 0.55) + 'px';
  d.style.fontSize = size + 'px';
  d.textContent = str;
  fig.appendChild(d);
}
function dot(cx, cy, r, color) {
  const d = document.createElement('div');
  d.className = 'dot';
  d.style.cssText += `left:${cx - r}px;top:${cy - r}px;width:${2 * r}px;height:${2 * r}px;background:${color}`;
  fig.appendChild(d);
}
function box(x, y, w, h, css) {
  const d = document.createElement('div');
  d.style.cssText = `position:absolute;left:${x}px;top:${y}px;width:${w}px;height:${h}px;${css}`;
  fig.appendChild(d);
}
function note(str, x, y) {
  const d = document.createElement('div');
  d.className = 'note';
  d.style.left = x + 'px';
  d.style.top = y + 'px';
  d.textContent = str;
  fig.appendChild(d);
}
function fdr(html, x, cy) {
  const d = document.createElement('div');
  d.className = 'fdr';
  d.style.left = x + 'px';
  d.style.top = (cy - 8) + 'px';
  d.innerHTML = html;
  fig.appendChild(d);
}

const moduleNames = ['m16/17/18', 'm110', 'Others'];
// A legend
text('Modules', 147, 142, 11);
[['#0000ff', 160], ['#ff0000', 172.5], ['#a3a3a3', 185]].forEach((k, i) => {
  dot(150.5, k[1], 2.4, k[0]);
  text(moduleNames[i], 162, k[1], 8.6);
});
note('r = 0.95, p < 2.2e\u221216', 51, 167);

// B legend
text('Modules', 142, 357.5, 11);
[['rgba(0,0,255,0.5)', 375], ['rgba(255,0,0,0.5)', 388], ['rgba(180,180,180,0.5)', 401]].forEach((k, i) => {
  dot(148.5, k[1], 2.4, k[0]);
  text(moduleNames[i], 161, k[1], 8.6);
});
note('r = 0.81, p < 2.2e\u221216', 45, 380);

// C legend (inside Module 16 panel)
text('rs1990622A carrier', 263, 146.5, 9.6);
box(264, 157, 16, 34, 'background:#d6d6d6');
[['#0000ff', 'rgba(0,0,255,0.5)', 165.5, 'No'], ['#ff0000', 'rgba(255,0,0,0.5)', 182.5, 'Yes']].forEach(k => {
  box(264, k[2] - 1.2, 16, 2.4, 'background:' + k[0]);
  dot(272, k[2], 3.2, k[1]);
  text(k[3], 286, k[2], 8.2);
});

fdr('FDR<sub>int</sub>=0.050', 302, 25);
fdr('FDR<sub>int</sub>=0.29', 515, 26);
fdr('FDR<sub>int</sub>=0.29', 307, 241.5);
fdr('FDR<sub>int</sub>=9.5\u00d710<sup>-3</sup>', 498, 239);
</script>
</body>
</html>
